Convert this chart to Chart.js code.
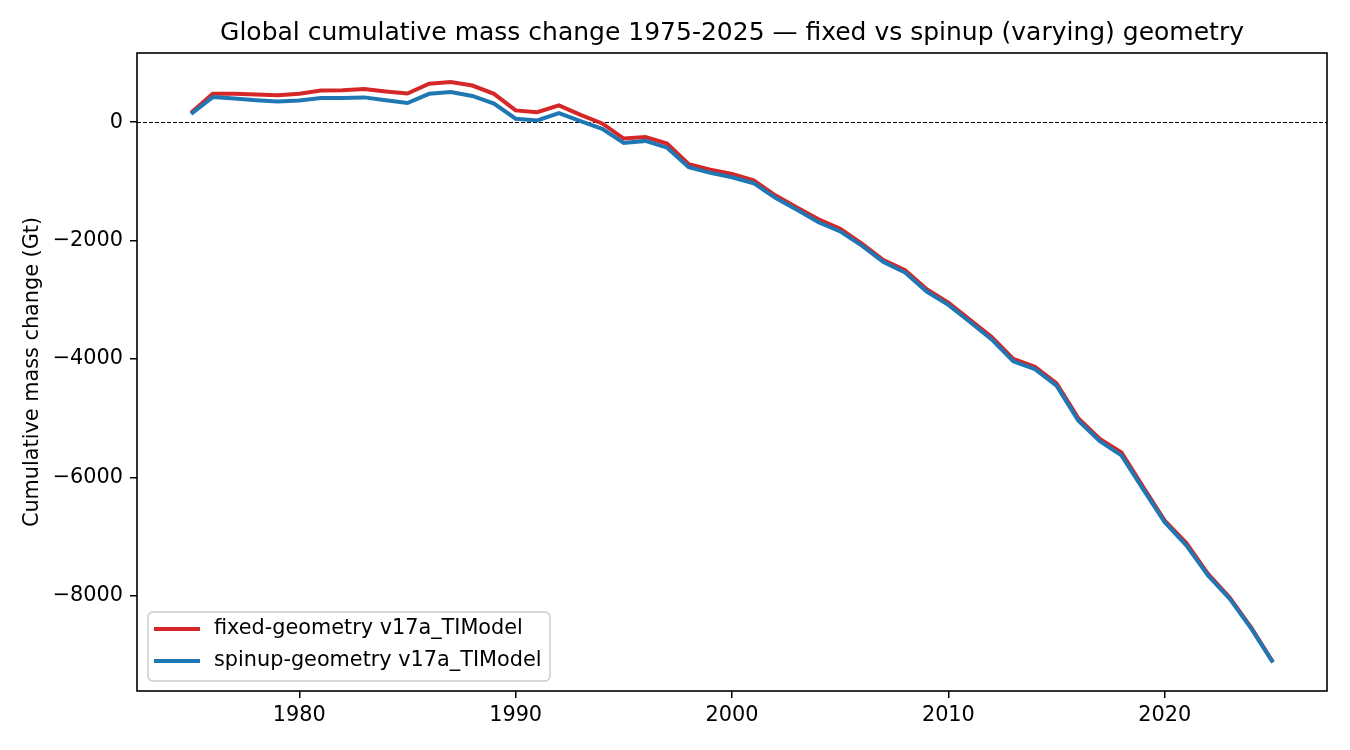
<!DOCTYPE html>
<html>
<head>
<meta charset="utf-8">
<script src="https://cdn.jsdelivr.net/npm/chart.js@4"></script>
<style>
  html, body { margin: 0; padding: 0; background: #ffffff; }
  #wrap { width: 1350px; height: 750px; }
</style>
</head>
<body>
<div id="wrap"><canvas id="c" width="1350" height="750"></canvas></div>
<script>
const titleText = 'Global cumulative mass change 1975-2025 \u2014 fixed vs spinup (varying) geometry';
const yAxisTitle = 'Cumulative mass change (Gt)';
const seriesNames = ['fixed-geometry v17a_TIModel', 'spinup-geometry v17a_TIModel'];
const years = [1975,1976,1977,1978,1979,1980,1981,1982,1983,1984,1985,1986,1987,1988,1989,1990,1991,1992,1993,1994,1995,1996,1997,1998,1999,2000,2001,2002,2003,2004,2005,2006,2007,2008,2009,2010,2011,2012,2013,2014,2015,2016,2017,2018,2019,2020,2021,2022,2023,2024,2025];
const fixedGeom = [160,480,482,470,455,480,535,540,560,520,485,650,680,620,480,200,170,285,125,-20,-275,-250,-360,-710,-800,-875,-980,-1235,-1440,-1640,-1800,-2050,-2330,-2500,-2820,-3050,-3340,-3630,-4000,-4130,-4410,-5000,-5350,-5580,-6160,-6730,-7110,-7630,-8030,-8540,-9120];
const spinupGeom = [140,425,400,372,352,368,410,410,420,370,325,480,510,445,315,60,30,155,20,-110,-350,-315,-430,-760,-855,-930,-1030,-1275,-1480,-1690,-1845,-2085,-2360,-2540,-2860,-3085,-3375,-3670,-4040,-4170,-4450,-5040,-5390,-5630,-6200,-6760,-7150,-7660,-8050,-8555,-9125];
const xTicks = [1980,1990,2000,2010,2020];
const yTicks = [-8000,-6000,-4000,-2000,0];
const colors = ['#d62728', '#1f77b4'];

const FONT = "'DejaVu Sans', sans-serif";

const framePlugin = {
  id: 'frame',
  beforeDatasetsDraw(chart) {
    const {ctx, chartArea: a, scales: {y}} = chart;
    const y0 = y.getPixelForValue(0);
    ctx.save();
    ctx.strokeStyle = '#000';
    ctx.lineWidth = 1;
    ctx.setLineDash([4, 2]);
    ctx.beginPath();
    ctx.moveTo(a.left, Math.round(y0) + 0.5);
    ctx.lineTo(a.right, Math.round(y0) + 0.5);
    ctx.stroke();
    ctx.restore();
  },
  afterDatasetsDraw(chart) {
    const {ctx, chartArea: a} = chart;
    ctx.save();
    ctx.strokeStyle = '#000';
    ctx.lineWidth = 1.6;
    ctx.strokeRect(a.left, a.top, a.right - a.left, a.bottom - a.top);
    // legend
    const lx = a.left + 11, ly = a.bottom - 79, lw = 402, lh = 69;
    ctx.fillStyle = 'rgba(255,255,255,0.8)';
    ctx.strokeStyle = '#cccccc';
    ctx.lineWidth = 1.5;
    ctx.beginPath();
    ctx.roundRect(lx, ly, lw, lh, 5);
    ctx.fill();
    ctx.stroke();
    ctx.font = '20.8px ' + FONT;
    ctx.textBaseline = 'middle';
    ctx.textAlign = 'left';
    for (let i = 0; i < seriesNames.length; i++) {
      const ry = ly + 17 + i * 32;
      ctx.strokeStyle = colors[i];
      ctx.lineWidth = 4;
      ctx.beginPath();
      ctx.moveTo(lx + 6, ry);
      ctx.lineTo(lx + 52, ry);
      ctx.stroke();
      ctx.fillStyle = '#000';
      ctx.fillText(seriesNames[i], lx + 66, ry);
    }
    ctx.restore();
  }
};

const minusFmt = v => (v < 0 ? '\u2212' + Math.abs(v) : String(v));

new Chart(document.getElementById('c'), {
  type: 'line',
  data: {
    datasets: [
      { label: seriesNames[0], data: years.map((yr, i) => ({x: yr, y: fixedGeom[i]})), borderColor: colors[0], borderWidth: 4, pointRadius: 0, fill: false, tension: 0, order: 2 },
      { label: seriesNames[1], data: years.map((yr, i) => ({x: yr, y: spinupGeom[i]})), borderColor: colors[1], borderWidth: 4, pointRadius: 0, fill: false, tension: 0, order: 1 }
    ]
  },
  options: {
    responsive: false,
    animation: false,
    devicePixelRatio: 1,
    layout: { padding: { left: 0, right: 23, top: 0, bottom: 0 } },
    plugins: {
      legend: { display: false },
      tooltip: { enabled: false },
      title: {
        display: true,
        text: titleText,
        fullSize: false,
        color: '#000',
        font: { family: FONT, size: 25, weight: 'normal', lineHeight: 1.2 },
        padding: { top: 18, bottom: 5 }
      }
    },
    scales: {
      x: {
        type: 'linear',
        min: 1972.5,
        max: 2027.5,
        afterBuildTicks: s => { s.ticks = xTicks.map(v => ({value: v})); },
        afterFit: s => { s.height = 59; },
        border: { display: false },
        grid: { display: true, drawOnChartArea: false, drawTicks: true, tickLength: 7, tickColor: '#000', lineWidth: 1.5 },
        ticks: { color: '#000', font: { family: FONT, size: 20.8 }, padding: 5, maxRotation: 0, callback: v => String(v) }
      },
      y: {
        type: 'linear',
        min: -9610,
        max: 1170,
        afterBuildTicks: s => { s.ticks = yTicks.map(v => ({value: v})); },
        afterFit: s => { s.width = 137; },
        border: { display: false },
        grid: { display: true, drawOnChartArea: false, drawTicks: true, tickLength: 7, tickColor: '#000', lineWidth: 1.5 },
        ticks: { color: '#000', font: { family: FONT, size: 20.8 }, padding: 7, callback: minusFmt },
        title: { display: true, text: yAxisTitle, color: '#000', font: { family: FONT, size: 20.8, lineHeight: 1.2 }, padding: { top: 20, bottom: 0 } }
      }
    }
  },
  plugins: [framePlugin]
});
</script>
</body>
</html>
